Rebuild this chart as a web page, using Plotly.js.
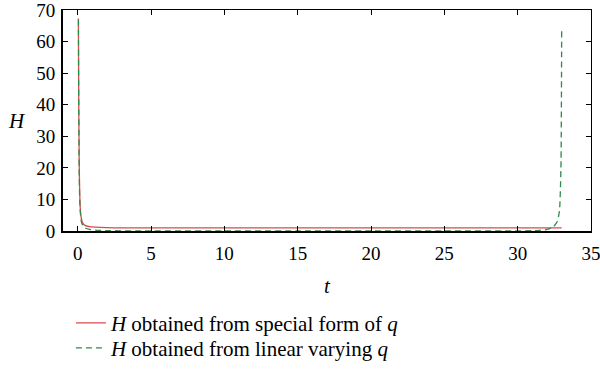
<!DOCTYPE html>
<html>
<head>
<meta charset="utf-8">
<script src="https://cdn.plot.ly/plotly-3.0.1.min.js"></script>
<style>
  html, body { margin: 0; padding: 0; background: #fff; }
  #chart { width: 600px; height: 371px; }
</style>
</head>
<body>
<div id="chart"></div>
<script>
// H(t) for the special form of q
const tSpecial = [0.05, 0.07, 0.09, 0.11, 0.14, 0.18, 0.25, 0.35, 0.5, 0.8, 1.2, 2, 3, 5, 10, 15, 20, 25, 30, 32, 33];
const hSpecial = [67.3, 45, 30, 20, 12, 7, 4, 2.5, 1.8, 1.4, 1.2, 1.05, 1.0, 1.0, 1.0, 1.0, 1.0, 1.0, 1.0, 1.0, 1.0];

// H(t) for linearly varying q
const tLinear = [0.05, 0.07, 0.09, 0.11, 0.14, 0.18, 0.25, 0.35, 0.5, 0.8, 1.2, 2, 5, 10, 15, 20, 25, 30, 31, 31.5, 32, 32.4, 32.7, 32.85, 32.95, 33.0];
const hLinear = [67, 42, 27, 17, 10, 6, 3, 1.8, 1.0, 0.5, 0.25, 0.1, 0.05, 0.05, 0.05, 0.05, 0.05, 0.05, 0.1, 0.2, 0.5, 1.2, 3, 6.5, 20, 63.6];

const xTicks = [0, 5, 10, 15, 20, 25, 30, 35];
const yTicks = [0, 10, 20, 30, 40, 50, 60, 70];

const serif = "Liberation Serif";

const traces = [
  {
    x: tSpecial, y: hSpecial, mode: "lines", legend: "legend",
    name: "<i>H</i> obtained from special form of <i>q</i>",
    line: { color: "#dc4a4f", width: 1.3, shape: "spline", smoothing: 0.6 }
  },
  {
    x: tLinear, y: hLinear, mode: "lines", legend: "legend2",
    name: "<i>H</i> obtained from linear varying <i>q</i>",
    line: { color: "#2f8a4c", width: 1.3, dash: "6px,4px", shape: "spline", smoothing: 0.6 }
  },
  {
    // carries the top/right frame axes
    x: [0], y: [0], xaxis: "x2", yaxis: "y2", mode: "markers",
    marker: { opacity: 0 }, showlegend: false, hoverinfo: "skip"
  }
];

const baseAxis = {
  showgrid: false, zeroline: false, automargin: false,
  ticks: "inside", ticklen: 5, tickwidth: 1, tickcolor: "#000",
  linecolor: "#000", ticklabeloverflow: "allow",
  tickfont: { family: serif, size: 19, color: "#000" }
};

const legendBase = {
  x: 0.015, xanchor: "left", yanchor: "middle",
  font: { family: serif, size: 21, color: "#000" },
  itemwidth: 30, bgcolor: "rgba(0,0,0,0)"
};

const layout = {
  width: 600, height: 371,
  font: { family: serif, color: "#000" },
  margin: { l: 63, r: 9, t: 10, b: 140, autoexpand: false },
  paper_bgcolor: "#fff", plot_bgcolor: "#fff",
  showlegend: true,
  legend: Object.assign({}, legendBase, { y: -0.417 }),
  legend2: Object.assign({}, legendBase, { y: -0.530 }),
  xaxis: Object.assign({}, baseAxis, {
    range: [-1, 35], tickvals: xTicks, showline: true, linewidth: 2, ticklabelstandoff: 4,
    title: { text: "<i>t</i>", font: { family: serif, size: 21, color: "#000" }, standoff: 16 }
  }),
  yaxis: Object.assign({}, baseAxis, {
    range: [0, 70], tickvals: yTicks, showline: true, linewidth: 2, ticklabelstandoff: 2
  }),
  xaxis2: Object.assign({}, baseAxis, {
    range: [-1, 35], tickvals: xTicks, showline: true, linewidth: 1,
    overlaying: "x", side: "top", showticklabels: false
  }),
  yaxis2: Object.assign({}, baseAxis, {
    range: [0, 70], tickvals: yTicks, showline: true, linewidth: 1,
    overlaying: "y", side: "right", showticklabels: false
  }),
  annotations: [{
    text: "<i>H</i>", xref: "paper", yref: "paper",
    x: -0.087, y: 0.498, xanchor: "center", yanchor: "middle",
    showarrow: false, font: { family: serif, size: 21, color: "#000" }
  }]
};

Plotly.newPlot("chart", traces, layout, { displayModeBar: false, staticPlot: true });
</script>
</body>
</html>
